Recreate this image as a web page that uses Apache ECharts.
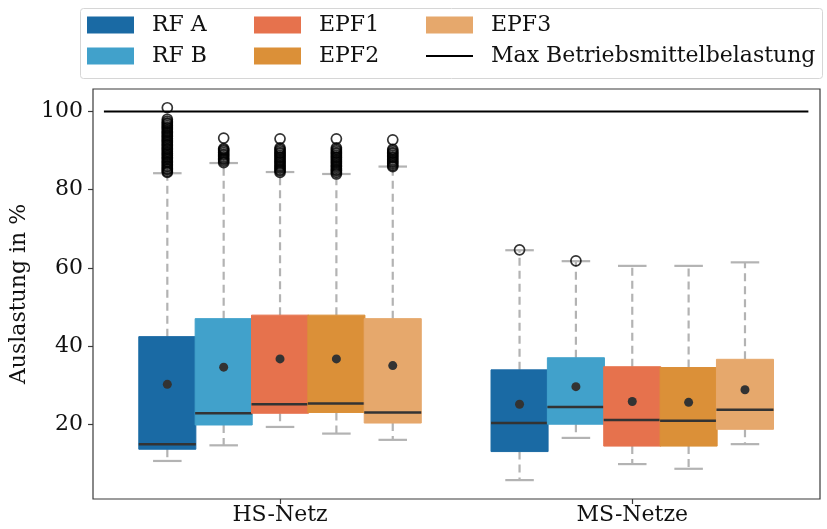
<!DOCTYPE html>
<html>
<head>
<meta charset="utf-8">
<script src="https://cdn.jsdelivr.net/npm/echarts@6/dist/echarts.min.js"></script>
<style>
  html, body { margin: 0; padding: 0; background: #fff; }
  #chart { width: 827px; height: 529px; }
</style>
</head>
<body>
<div id="chart"></div>
<script>
// Network groups on the x axis
const categories = ['HS-Netz', 'MS-Netze'];
const seriesNames = ['RF A', 'RF B', 'EPF1', 'EPF2', 'EPF3'];
const lineName = 'Max Betriebsmittelbelastung';
const maxLoad = 100;
const yTicks = [20, 40, 60, 80, 100];

// Box statistics per series: [lower whisker, Q1, median, Q3, upper whisker, mean], one row per category
const statsRfA  = [[10.6, 13.6, 14.9, 42.4, 84.2, 30.2], [5.7, 13.0, 20.3, 33.9, 64.5, 25.1]];
const statsRfB  = [[14.6, 19.8, 22.8, 47.0, 86.8, 34.6], [16.5, 20.0, 24.4, 37.0, 61.7, 29.6]];
const statsEpf1 = [[19.3, 22.8, 25.1, 47.9, 84.5, 36.7], [9.8, 14.4, 21.1, 34.7, 60.5, 25.8]];
const statsEpf2 = [[17.6, 23.0, 25.3, 47.9, 84.0, 36.7], [8.6, 14.4, 20.9, 34.5, 60.5, 25.6]];
const statsEpf3 = [[16.0, 20.3, 23.0, 47.0, 85.9, 35.0], [14.9, 18.7, 23.7, 36.6, 61.4, 28.8]];

// Outliers per series: one list per category
const fliersRfA = [
  [84.4, 84.7, 85.1, 85.4, 85.8, 86.1, 86.5, 86.9, 87.2, 87.6, 88.0, 88.3, 88.7, 89.1, 89.4, 89.8,
   90.2, 90.5, 90.9, 91.3, 91.6, 92.0, 92.4, 92.7, 93.1, 93.5, 93.8, 94.2, 94.6, 94.9, 95.3, 95.7,
   96.0, 96.4, 96.8, 97.1, 97.5, 98.0, 100.95],
  [64.6]
];
const fliersRfB = [
  [86.9, 87.3, 87.7, 88.0, 88.4, 88.8, 89.1, 89.5, 89.9, 90.2, 90.5, 93.2],
  [61.8]
];
const fliersEpf1 = [
  [84.4, 84.8, 85.1, 85.5, 85.9, 86.2, 86.6, 87.0, 87.3, 87.7, 88.1, 88.4, 88.8, 89.2, 89.5, 89.9,
   90.3, 90.7, 93.0],
  []
];
const fliersEpf2 = [
  [84.0, 84.4, 84.8, 85.1, 85.5, 85.9, 86.2, 86.6, 87.0, 87.3, 87.7, 88.1, 88.4, 88.8, 89.2, 89.5,
   89.9, 90.3, 90.7, 93.0],
  []
];
const fliersEpf3 = [
  [85.9, 86.2, 86.6, 87.0, 87.3, 87.7, 88.1, 88.4, 88.8, 89.2, 89.5, 89.9, 90.3, 92.75],
  []
];

const colors = ['#1a6aa4', '#41a1cb', '#e6724d', '#db9038', '#e6a86c'];

const allStats = [statsRfA, statsRfB, statsEpf1, statsEpf2, statsEpf3];
const allFliers = [fliersRfA, fliersRfB, fliersEpf1, fliersEpf2, fliersEpf3];

const FONT = 'DejaVu Serif';
const FONT_SIZE = 22;
const BOX_W = 0.162;
const HUE_STEP = 0.16;
const WHISKER = '#b3b3b3';
const DARK = '#333333';
const AXIS = '#3a3a3a';

function offsetOf(i) { return (i - (seriesNames.length - 1) / 2) * HUE_STEP; }

function renderBox(params, api) {
  const x = api.value(0);
  const lo = api.value(1), q1 = api.value(2), med = api.value(3),
        q3 = api.value(4), hi = api.value(5), mean = api.value(6);
  const cx = api.coord([x, 0])[0];
  const left = api.coord([x - BOX_W / 2, 0])[0];
  const right = api.coord([x + BOX_W / 2, 0])[0];
  const capL = api.coord([x - BOX_W / 4, 0])[0];
  const capR = api.coord([x + BOX_W / 4, 0])[0];
  const y = v => api.coord([x, v])[1];
  const color = api.visual('color');
  const dash = { stroke: WHISKER, lineWidth: 2.2, lineDash: [8, 5] };
  const cap = { stroke: WHISKER, lineWidth: 2.2 };
  return {
    type: 'group',
    children: [
      { type: 'line', shape: { x1: cx, y1: y(q3), x2: cx, y2: y(hi) }, style: dash },
      { type: 'line', shape: { x1: cx, y1: y(q1), x2: cx, y2: y(lo) }, style: dash },
      { type: 'line', shape: { x1: capL, y1: y(hi), x2: capR, y2: y(hi) }, style: cap },
      { type: 'line', shape: { x1: capL, y1: y(lo), x2: capR, y2: y(lo) }, style: cap },
      { type: 'rect', shape: { x: left, y: y(q3), width: right - left, height: y(q1) - y(q3) },
        style: { fill: color, stroke: color, lineWidth: 1 } },
      { type: 'line', shape: { x1: left, y1: y(med), x2: right, y2: y(med) },
        style: { stroke: DARK, lineWidth: 2.5 } },
      { type: 'circle', shape: { cx: cx, cy: y(mean), r: 4.5 }, style: { fill: DARK } }
    ]
  };
}

const series = [];
seriesNames.forEach((name, i) => {
  const data = categories.map((c, ci) => [ci + offsetOf(i)].concat(allStats[i][ci]));
  series.push({
    name: name,
    type: 'custom',
    renderItem: renderBox,
    itemStyle: { color: colors[i] },
    encode: { x: 0, y: [1, 2, 3, 4, 5, 6] },
    data: data,
    z: 2
  });
  const pts = [];
  categories.forEach((c, ci) => {
    allFliers[i][ci].forEach(v => pts.push([ci + offsetOf(i), v]));
  });
  series.push({
    name: name + ' Ausreißer',
    type: 'scatter',
    symbol: 'circle',
    symbolSize: 10,
    itemStyle: { color: 'rgba(0,0,0,0)', borderColor: '#000', borderWidth: 1.7 },
    data: pts,
    silent: true,
    z: 3
  });
});
series.push({
  name: lineName,
  type: 'line',
  symbol: 'none',
  itemStyle: { color: '#000' },
  lineStyle: { color: '#000', width: 2 },
  data: [[-0.5, maxLoad], [1.5, maxLoad]],
  z: 4
});

const legendText = { fontFamily: FONT, fontSize: FONT_SIZE, color: '#111', padding: [0, 0, 0, 13] };
const legendBase = {
  orient: 'vertical', top: 9, itemWidth: 47, itemHeight: 17, itemGap: 9,
  textStyle: legendText, selectedMode: false
};

const option = {
  backgroundColor: '#fff',
  animation: false,
  grid: { left: 93, right: 7, top: 89, bottom: 30, show: true, borderColor: AXIS, borderWidth: 1.2, backgroundColor: 'transparent' },
  legend: [
    Object.assign({}, legendBase, { left: 82, data: [{ name: 'RF A', icon: 'rect' }, { name: 'RF B', icon: 'rect' }] }),
    Object.assign({}, legendBase, { left: 249, data: [{ name: 'EPF1', icon: 'rect' }, { name: 'EPF2', icon: 'rect' }] }),
    Object.assign({}, legendBase, { left: 420, data: [{ name: 'EPF3', icon: 'rect' }, { name: lineName, itemStyle: { opacity: 0 } }] })
  ],
  graphic: [{
    type: 'rect', left: 80, top: 8,
    shape: { width: 742, height: 70, r: 3 },
    style: { fill: 'rgba(255,255,255,0.8)', stroke: '#d6d6d6', lineWidth: 1 },
    z: -1
  }],
  xAxis: {
    type: 'value', min: -0.531, max: 1.533,
    splitLine: { show: false },
    axisLine: { show: false, onZero: false },
    axisTick: { show: true, customValues: [0, 1], length: 5, lineStyle: { color: AXIS, width: 1.2 } },
    axisLabel: {
      customValues: [0, 1], margin: 5,
      formatter: v => categories[Math.round(v)],
      fontFamily: FONT, fontSize: FONT_SIZE, color: '#111'
    }
  },
  yAxis: {
    type: 'value', min: 0.87, max: 105.74,
    name: 'Auslastung in %', nameLocation: 'middle', nameGap: 50,
    nameTextStyle: { fontFamily: FONT, fontSize: FONT_SIZE, color: '#111' },
    splitLine: { show: false },
    axisLine: { show: false, onZero: false },
    axisTick: { show: true, customValues: yTicks, length: 5, lineStyle: { color: AXIS, width: 1.2 } },
    axisLabel: { customValues: yTicks, margin: 10, fontFamily: FONT, fontSize: FONT_SIZE, color: '#111' }
  },
  series: series
};

const chart = echarts.init(document.getElementById('chart'), null, { renderer: 'canvas' });
chart.setOption(option);
</script>
</body>
</html>
